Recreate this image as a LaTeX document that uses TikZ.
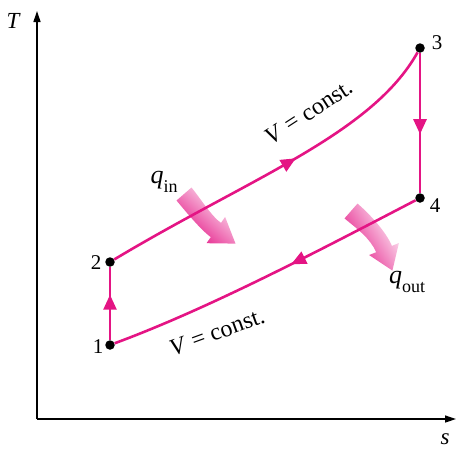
\documentclass[tikz,border=0pt]{standalone}
\usepackage{fontspec}
\setmainfont{Liberation Serif}
\usetikzlibrary{arrows.meta,decorations.markings}
\definecolor{mag}{RGB}{228,20,132}
\definecolor{palepink}{RGB}{254,244,250}
\newcommand{\subtxt}[1]{\raisebox{-0.32em}{\fontsize{18}{18}\selectfont #1}}
\begin{document}
\begin{tikzpicture}[x=1pt,y=-1pt,
  dot/.style={circle,fill=black,inner sep=0pt,minimum size=9.5pt},
  cyc/.style={mag,line width=2.6pt},
  midarrow/.style={postaction={decorate},decoration={markings,mark=at position #1 with {\arrow{Triangle[length=15pt,width=13pt]}}}},
  numlbl/.style={font=\fontsize{21}{23}\selectfont,inner sep=0pt},
  axlbl/.style={font=\fontsize{23}{25}\selectfont\itshape,inner sep=0pt},
  vlbl/.style={font=\fontsize{24}{26}\selectfont,inner sep=0pt},
  qlbl/.style={font=\fontsize{26}{28}\selectfont,inner sep=0pt},
  axisline/.style={line width=1.3pt,-{Triangle[length=11pt,width=7pt]}},
  heat/.style={left color=palepink,right color=mag}
]
\useasboundingbox (0,0) rectangle (457,448);

% axes
\coordinate (o) at (37,419);
\coordinate (ty) at (37,11);
\coordinate (sx) at (456,419);
\draw[axisline] (o) -- (ty);
\draw[axisline] (o) -- (sx);
\node[axlbl] (tl) at (13,21) {T};
\node[axlbl] (sl) at (445,439) {s};

% heat arrows
\shade[heat,shading angle=-42] (176.5,200.5) -- (191.5,187.5)
  .. controls (199.2,196.7) and (211.2,216.0) .. (221.0,222.9)
  -- (225.1,216.9) -- (235.5,243.6) -- (206.5,243.2) -- (210.8,237.1)
  .. controls (201.0,230.2) and (184.2,209.7) .. (176.5,200.5) -- cycle;
\shade[heat,shading angle=-58] (344.5,218.4) -- (357.5,203.6)
  .. controls (369.0,213.2) and (386.3,232.0) .. (391.9,245.9)
  -- (398.9,243.0) -- (392.4,270.6) -- (369.1,255.0) -- (376.1,252.2)
  .. controls (370.5,238.3) and (356.0,228.0) .. (344.5,218.4) -- cycle;

% state points
\node[dot] (p1) at (110,345) {};
\node[dot] (p2) at (110,262) {};
\node[dot] (p3) at (420,48) {};
\node[dot] (p4) at (420,198) {};

% cycle
\draw[cyc,midarrow=0.62] (p1) -- (p2);
\draw[cyc,midarrow=0.56] (p2) .. controls (250,178) and (372,134) .. (p3);
\draw[cyc,midarrow=0.58] (p3) -- (p4);
\draw[cyc,midarrow=0.42] (p4) .. controls (320,250) and (210,308) .. (p1);

% labels
\node[numlbl] (l1) at (98,347) {1};
\node[numlbl] (l2) at (96,263) {2};
\node[numlbl] (l3) at (437,43) {3};
\node[numlbl] (l4) at (435,206) {4};
\node[vlbl,rotate=33] (vu) at (309,112) {\textit{V} = const.};
\node[vlbl,rotate=20] (vl) at (217,332) {\textit{V} = const.};
\node[qlbl] (qin) at (164,182) {\textit{q}\subtxt{in}};
\node[qlbl] (qout) at (407,282) {\textit{q}\subtxt{out}};
\end{tikzpicture}
\end{document}
